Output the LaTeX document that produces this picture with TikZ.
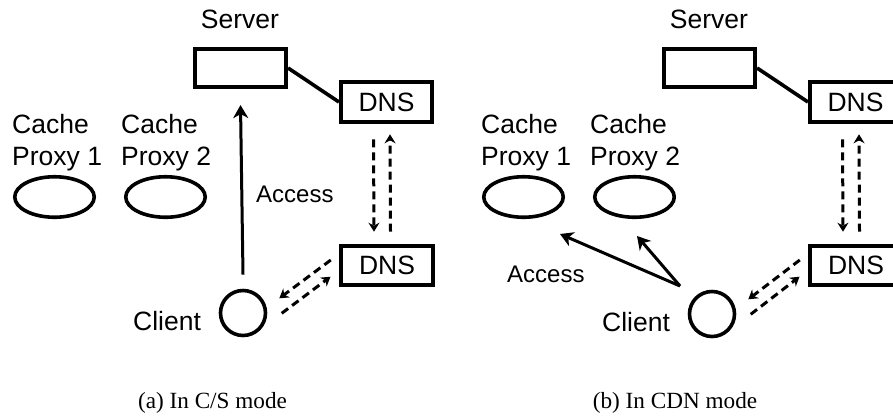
\documentclass[tikz,border=0pt]{standalone}
\usepackage{fontspec}
\setmainfont{Liberation Serif}
\newfontfamily\arialfont{Liberation Sans}
\usetikzlibrary{arrows.meta,shapes.geometric}
\begin{document}
\begin{tikzpicture}[x=1pt,y=-1pt,
  srvbox/.style={draw,line width=3.6pt,rectangle,inner sep=0pt,minimum width=91.5pt,minimum height=38.5pt},
  dnsbox/.style={draw,line width=3.6pt,rectangle,inner sep=0pt,minimum width=91.5pt,minimum height=39.5pt,font=\arialfont\fontsize{26.5}{32}\selectfont},
  proxy/.style={draw,line width=3.6pt,ellipse,inner sep=0pt,minimum width=79.5pt,minimum height=40.5pt},
  clientc/.style={draw,line width=3.6pt,circle,inner sep=0pt,minimum size=45pt},
  lbl/.style={inner sep=0pt,anchor=base west,font=\arialfont\fontsize{26.5}{32}\selectfont},
  acclbl/.style={inner sep=0pt,anchor=base west,font=\arialfont\fontsize{24}{29}\selectfont},
  caption/.style={inner sep=0pt,anchor=base,font=\fontsize{23.2}{28}\selectfont},
  link/.style={line width=3.6pt},
  accarrow/.style={line width=3pt,-{Stealth[length=13pt,width=15pt,inset=4pt]}},
  dnsarrow/.style={line width=3pt,dash pattern=on 8pt off 5pt,-{Stealth[length=9pt,width=11pt,inset=3pt]}}
]
\useasboundingbox (0,0) rectangle (893,416);
\clip (0,0) rectangle (893,416);
\fill[white] (0,0) rectangle (893,416);

% ---------- (a) C/S mode ----------
\node[lbl,anchor=base] (srvlblA) at (240,28) {Server};
\node[srvbox] (srvA) at (240.5,68) {};
\node[dnsbox] (dnsA1) at (386.5,102) {DNS};
\node[dnsbox] (dnsA2) at (387,265.5) {DNS};
\node[lbl] (cacheA1) at (12,133) {Cache};
\node[lbl] (proxyA1) at (12,165.5) {Proxy 1};
\node[lbl] (cacheA2) at (121,133) {Cache};
\node[lbl] (proxyA2) at (121,165.5) {Proxy 2};
\node[proxy] (pxA1) at (54.5,197) {};
\node[proxy] (pxA2) at (165.5,197) {};
\node[clientc] (cliA) at (243,313) {};
\node[lbl] (clilblA) at (133,330) {Client};
\node[acclbl] (accA) at (256,202) {Access};

\draw[link] (srvA.east) -- (dnsA1.west);
\draw[accarrow] ([yshift=14pt]cliA.north) -- ([yshift=-16pt]srvA.south);
\draw[dnsarrow] ([shift={(-13,15.75)}]dnsA1.south) -- ([shift={(-13,-12.25)}]dnsA2.north);
\draw[dnsarrow] ([shift={(3.5,-12.25)}]dnsA2.north) -- ([shift={(3.5,10.75)}]dnsA1.south);
\draw[dnsarrow] ([shift={(-8.65,-5.5)}]dnsA2.west) -- ([shift={(36.3,-14.7)}]cliA.center);
\draw[dnsarrow] ([shift={(38.7,0.3)}]cliA.center) -- ([shift={(-8.95,11.2)}]dnsA2.west);

\node[caption] (capA) at (212.5,408) {(a) In C/S mode};

% ---------- (b) CDN mode ----------
\node[lbl,anchor=base] (srvlblB) at (709,28) {Server};
\node[srvbox] (srvB) at (709.5,68) {};
\node[dnsbox] (dnsB1) at (855.5,102) {DNS};
\node[dnsbox] (dnsB2) at (856,265.5) {DNS};
\node[lbl] (cacheB1) at (481,133) {Cache};
\node[lbl] (proxyB1) at (481,165.5) {Proxy 1};
\node[lbl] (cacheB2) at (590,133) {Cache};
\node[lbl] (proxyB2) at (590,165.5) {Proxy 2};
\node[proxy] (pxB1) at (523.5,197) {};
\node[proxy] (pxB2) at (634.5,197) {};
\node[clientc] (cliB) at (712,314) {};
\node[lbl] (clilblB) at (602,331) {Client};
\node[acclbl] (accB) at (507,282) {Access};

\draw[link] (srvB.east) -- (dnsB1.west);
\coordinate (accstart) at ([shift={(-32,-28)}]cliB.center);
\draw[accarrow] (accstart) -- ([shift={(36.5,37)}]pxB1.center);
\draw[accarrow] (accstart) -- ([shift={(2.5,39)}]pxB2.center);
\draw[dnsarrow] ([shift={(-13,15.75)}]dnsB1.south) -- ([shift={(-13,-12.25)}]dnsB2.north);
\draw[dnsarrow] ([shift={(3.5,-12.25)}]dnsB2.north) -- ([shift={(3.5,10.75)}]dnsB1.south);
\draw[dnsarrow] ([shift={(-8.65,-5.5)}]dnsB2.west) -- ([shift={(36.3,-14.7)}]cliB.center);
\draw[dnsarrow] ([shift={(38.7,0.3)}]cliB.center) -- ([shift={(-8.95,11.2)}]dnsB2.west);

\node[caption] (capB) at (675,408) {(b) In CDN mode};
\end{tikzpicture}
\end{document}
